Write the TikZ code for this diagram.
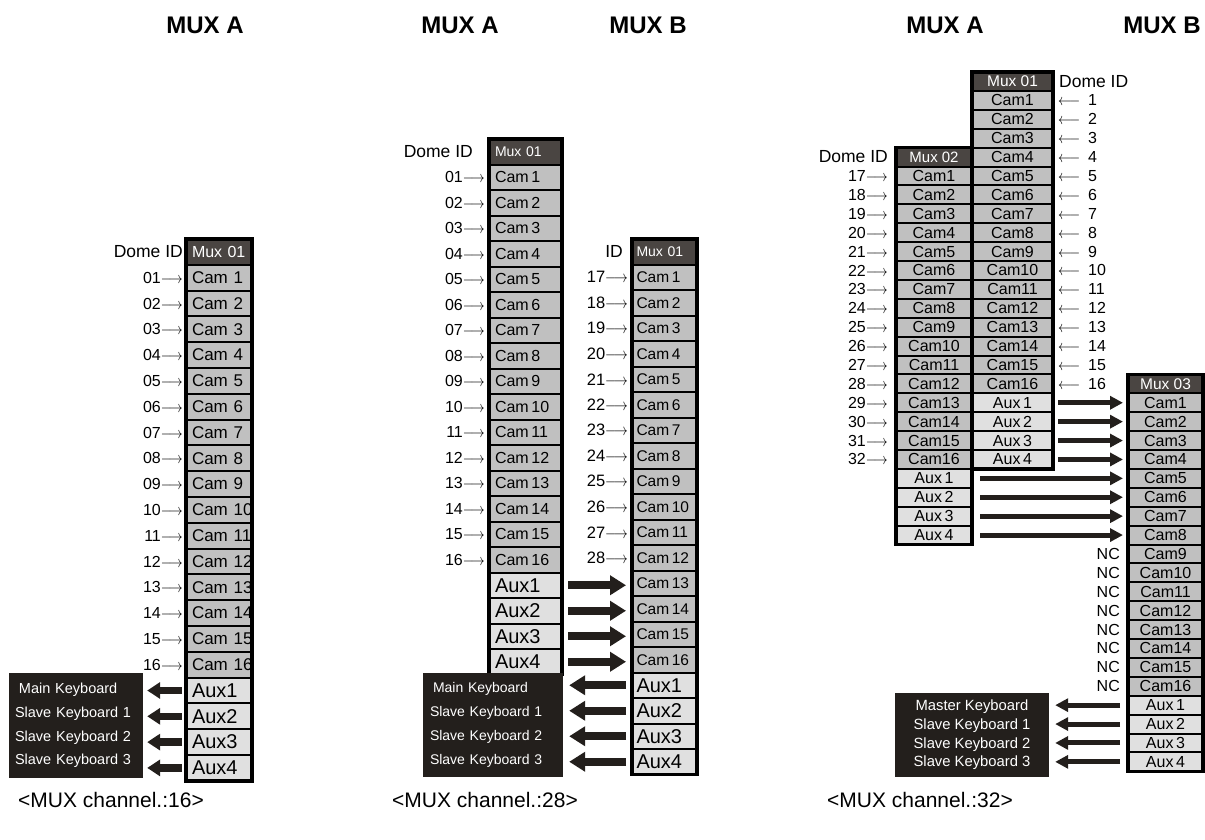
\RequirePackage{fix-cm}
\documentclass[tikz,border=0pt]{standalone}
\usepackage{fontspec}
\setmainfont{Liberation Sans}
\usepackage{graphicx}
\usepackage{tikz}
\usetikzlibrary{arrows.meta,positioning,calc}
\definecolor{camgray}{HTML}{C0C0C0}
\definecolor{auxgray}{HTML}{E0E0E0}
\definecolor{hdrgray}{HTML}{4A4542}
\definecolor{kbdblack}{HTML}{231F1C}
\newcommand\fs[1]{\fontsize{#1}{#1}\selectfont}
\newcommand\twod[1]{\ifnum#1<10 0\fi#1}
\newcommand\ra{\scalebox{0.85}[1]{$\longrightarrow$}}
\newcommand\la{\scalebox{0.85}[1]{$\longleftarrow$}}
\tikzset{
  cell/.style={draw=black,line width=2pt,inner ysep=0pt,outer sep=0pt},
  cam/.style={cell,fill=camgray},
  aux/.style={cell,fill=auxgray},
  hdr/.style={cell,fill=hdrgray,text=white},
  frame/.style={draw=black,line width=3.5pt},
  idlab/.style={inner sep=1pt,font=\fs{16}},
  kbd/.style={fill=kbdblack,text=white,inner ysep=0pt},
  title/.style={font=\fs{24}\bfseries},
  caption/.style={font=\fs{21}},
  fatL/.style={draw=kbdblack,line width=7.5pt,-{Triangle[length=13pt,width=16pt]}},
  fatM/.style={draw=kbdblack,line width=8pt,-{Triangle[length=16pt,width=19pt]}},
  fatR/.style={draw=kbdblack,line width=5pt,-{Triangle[length=13pt,width=13pt]}}
}

\begin{document}
\begin{tikzpicture}[x=1pt,y=-1pt,
  colL/.style={text width=54pt,inner xsep=6pt,align=left,minimum height=25.8pt},
  colMA/.style={text width=61pt,inner xsep=6pt,align=left,minimum height=25.5pt},
  colMB/.style={text width=56pt,inner xsep=4.5pt,align=left,minimum height=25.5pt},
  colRA/.style={minimum width=76pt,inner xsep=0pt,minimum height=18.9pt,font=\fs{16}},
  colRB/.style={minimum width=81pt,inner xsep=0pt,minimum height=18.9pt,font=\fs{16}},
  colRC/.style={minimum width=75pt,inner xsep=0pt,minimum height=18.9pt,font=\fs{16}}]
  \useasboundingbox (0,0) rectangle (1205,839);

  % titles
  \node[title] (tA1) at (205,25) {MUX A};
  \node[title] (tA2) at (460,25) {MUX A};
  \node[title] (tB2) at (648,25) {MUX B};
  \node[title] (tA3) at (945,25) {MUX A};
  \node[title] (tB3) at (1162,25) {MUX B};

  % 16 channels: one mux
  \node[hdr,colL,font=\fs{16}] (L0) at (219,{239+25.8*0.5}) {Mux 01};
  \foreach \i in {1,...,16}
    \node[cam,colL,font=\fs{17}] (L\i) at (219,{239+25.8*(\i+0.5)}) {Cam~\i};
  \foreach \i [evaluate=\i as \n using int(\i+16)] in {1,...,4}
    \node[aux,colL,font=\fs{20}] (L\n) at (219,{239+25.8*(\n+0.5)}) {Aux\i};
  \draw[frame] (L0.north west) rectangle (L20.south east);
  \node[idlab,anchor=east,font=\fs{17.5}] (Ldome) at ([xshift=-2pt]L0.west) {Dome ID};
  \foreach \i in {1,...,16}
    \node[idlab,anchor=east] (Lid\i) at ([xshift=-2pt]L\i.west) {\twod{\i}\ra};

  % keyboards on the aux ports
  \node[kbd,text width=122pt,inner xsep=6pt,minimum height=105pt,align=left,
    font=\fontsize{14.5}{23.7}\selectfont] (kbL) at (76,725.5)
    {\hspace*{4pt}Main Keyboard\\Slave Keyboard 1\\Slave Keyboard 2\\Slave Keyboard 3};
  \foreach \i in {17,...,20}
    \draw[fatL,shorten <=4pt,shorten >=4pt] (L\i.west) -- (L\i.west -| kbL.east);

  % 28 channels: mux A
  \node[hdr,colMA,font=\fs{14}] (MA0) at (525.5,{139+25.5*0.5}) {Mux 01};
  \foreach \i in {1,...,16}
    \node[cam,colMA,font=\fs{16}] (MA\i) at (525.5,{139+25.5*(\i+0.5)}) {Cam\,\i};
  \foreach \i [evaluate=\i as \n using int(\i+16)] in {1,...,4}
    \node[aux,colMA,font=\fs{20}] (MA\n) at (525.5,{139+25.5*(\n+0.5)}) {Aux\i};
  \draw[frame] (MA0.north west) rectangle (MA20.south east);
  \node[idlab,anchor=east,font=\fs{17.5}] (MAdome) at ([xshift=-15pt]MA0.west) {Dome ID};
  \foreach \i in {1,...,16}
    \node[idlab,anchor=east] (MAid\i) at ([xshift=-3pt]MA\i.west) {\twod{\i}\ra};

  % 28 channels: mux B
  \node[hdr,colMB,font=\fs{14}] (MB0) at (664.5,{239+25.5*0.5}) {Mux 01};
  \foreach \i in {1,...,16}
    \node[cam,colMB,font=\fs{15.5}] (MB\i) at (664.5,{239+25.5*(\i+0.5)}) {Cam\,\i};
  \foreach \i [evaluate=\i as \n using int(\i+16)] in {1,...,4}
    \node[aux,colMB,font=\fs{20}] (MB\n) at (664.5,{239+25.5*(\n+0.5)}) {Aux\i};
  \draw[frame] (MB0.north west) rectangle (MB20.south east);
  \node[idlab,anchor=east,font=\fs{17.5}] (MBdome) at ([xshift=-8pt]MB0.west) {ID};
  \foreach \i [evaluate=\i as \d using int(\i+16)] in {1,...,12}
    \node[idlab,anchor=east,font=\fs{16.5}] (MBid\i) at ([xshift=-3pt]MB\i.west) {\d\ra};

  % aux of mux A into cams 13-16 of mux B
  \foreach \i [evaluate=\i as \n using int(\i+16), evaluate=\i as \c using int(\i+12)] in {1,...,4}
    \draw[fatM,shorten <=6pt,shorten >=6pt] (MA\n.east) -- (MA\n.east -| MB\c.west);

  \node[kbd,text width=126pt,inner xsep=7pt,minimum height=104pt,align=left,
    font=\fontsize{14}{24}\selectfont] (kbM) at (493,725)
    {\hspace*{3pt}Main Keyboard\\Slave Keyboard 1\\Slave Keyboard 2\\Slave Keyboard 3};
  \foreach \i in {17,...,20}
    \draw[fatM,shorten <=6pt,shorten >=6pt] (MB\i.west) -- (MB\i.west -| kbM.east);

  % 32 channels: mux 01 (B)
  \node[hdr,colRB,font=\fs{15.5}] (RB0) at (1012.5,{72+18.9*0.5}) {Mux 01};
  \foreach \i in {1,...,16}
    \node[cam,colRB] (RB\i) at (1012.5,{72+18.9*(\i+0.5)}) {Cam\i};
  \foreach \i [evaluate=\i as \n using int(\i+16)] in {1,...,4}
    \node[aux,colRB] (RB\n) at (1012.5,{72+18.9*(\n+0.5)}) {Aux\,\i};
  \draw[frame] (RB0.north west) rectangle (RB20.south east);
  \node[idlab,anchor=west,font=\fs{17.5}] (RBdome) at ([xshift=5pt]RB0.east) {Dome ID};
  \foreach \i in {1,...,16}
    \node[idlab,anchor=west] (RBid\i) at ([xshift=4pt]RB\i.east) {\la\enspace\i};

  % 32 channels: mux 02 (A)
  \node[hdr,colRA,font=\fs{15}] (RA0) at (934,{72+18.9*4.5}) {Mux 02};
  \foreach \i in {1,...,16}
    \node[cam,colRA] (RA\i) at (934,{72+18.9*(\i+4.5)}) {Cam\i};
  \foreach \i [evaluate=\i as \n using int(\i+16)] in {1,...,4}
    \node[aux,colRA] (RA\n) at (934,{72+18.9*(\n+4.5)}) {Aux\,\i};
  \draw[frame] (RA0.north west) rectangle (RA20.south east);
  \node[idlab,anchor=east,font=\fs{17.5}] (RAdome) at ([xshift=-7pt]RA0.west) {Dome ID};
  \foreach \i [evaluate=\i as \d using int(\i+16)] in {1,...,16}
    \node[idlab,anchor=east] (RAid\i) at ([xshift=-7pt]RA\i.west) {\d\ra};

  % 32 channels: mux 03 takes the aux ports
  \node[hdr,colRC,font=\fs{15.5}] (RC0) at (1165.5,{72+18.9*16.5}) {Mux 03};
  \foreach \i in {1,...,16}
    \node[cam,colRC] (RC\i) at (1165.5,{72+18.9*(\i+16.5)}) {Cam\i};
  \foreach \i [evaluate=\i as \n using int(\i+16)] in {1,...,4}
    \node[aux,colRC] (RC\n) at (1165.5,{72+18.9*(\n+16.5)}) {Aux\,\i};
  \draw[frame] (RC0.north west) rectangle (RC20.south east);
  \foreach \i in {9,...,16}
    \node[idlab,anchor=east] (RCnc\i) at ([xshift=-7pt]RC\i.west) {NC};

  \foreach \i [evaluate=\i as \n using int(\i+16)] in {1,...,4}
    \draw[fatR,shorten <=5pt,shorten >=5pt] (RB\n.east) -- (RB\n.east -| RC\i.west);
  \foreach \i [evaluate=\i as \n using int(\i+16), evaluate=\i as \c using int(\i+4)] in {1,...,4}
    \draw[fatR,shorten <=8pt,shorten >=5pt] (RA\n.east) -- (RA\n.east -| RC\c.west);

  \node[kbd,minimum width=154pt,inner xsep=0pt,minimum height=84pt,align=center,
    font=\fontsize{14.8}{18.7}\selectfont] (kbR) at (972,735)
    {Master Keyboard\\Slave Keyboard 1\\Slave Keyboard 2\\Slave Keyboard 3};
  \foreach \i in {17,...,20}
    \draw[fatR,shorten <=8pt,shorten >=6pt] (RC\i.west) -- (RC\i.west -| kbR.east);

  % captions
  \node[caption] (cap1) at (111,800) {<MUX channel.:16>};
  \node[caption] (cap2) at (485,800) {<MUX channel.:28>};
  \node[caption] (cap3) at (920,800) {<MUX channel.:32>};
\end{tikzpicture}
\end{document}
